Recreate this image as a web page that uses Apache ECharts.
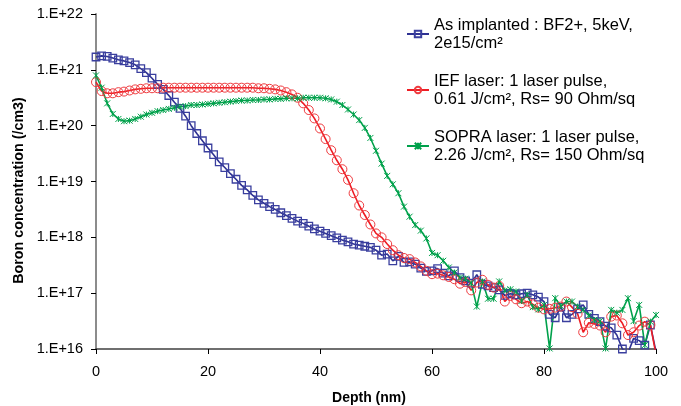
<!DOCTYPE html>
<html>
<head>
<meta charset="utf-8">
<script src="https://cdn.jsdelivr.net/npm/echarts@6/dist/echarts.min.js"></script>
<style>
html,body{margin:0;padding:0;background:#fff;}
#chart{width:681px;height:406px;}
</style>
</head>
<body>
<div id="chart"></div>
<script>
// Depth (nm)
const depth = [];
for (let i = 0; i <= 100; i++) depth.push(i);

// log10 of boron concentration (/cm3) at each depth
const asImplantedLog = [
21.23,21.25,21.24,21.21,21.18,21.16,21.13,21.09,21.02,20.95,
20.85,20.74,20.65,20.54,20.42,20.31,20.17,20.00,19.86,19.73,
19.60,19.48,19.35,19.25,19.14,19.04,18.93,18.85,18.75,18.67,
18.61,18.55,18.50,18.44,18.39,18.34,18.29,18.25,18.20,18.15,
18.11,18.07,18.03,17.99,17.95,17.92,17.88,17.86,17.84,17.82,
17.77,17.68,17.70,17.58,17.66,17.55,17.56,17.52,17.45,17.39,
17.40,17.44,17.36,17.31,17.40,17.28,17.22,17.18,17.33,17.16,
17.13,17.10,17.06,16.96,16.99,16.97,16.99,17.00,16.97,16.93,
16.85,16.62,16.56,16.75,16.56,16.62,16.72,16.79,16.62,16.55,
16.49,16.41,16.38,16.25,16.00,15.93,16.19,16.15,16.07,16.43,
15.95];

const iefLog = [
20.78,20.62,20.58,20.58,20.60,20.61,20.63,20.65,20.66,20.67,
20.67,20.67,20.68,20.68,20.68,20.68,20.68,20.68,20.68,20.68,
20.68,20.68,20.68,20.68,20.68,20.68,20.68,20.68,20.68,20.67,
20.67,20.66,20.65,20.63,20.60,20.56,20.50,20.40,20.28,20.13,
19.95,19.76,19.56,19.38,19.22,19.03,18.79,18.57,18.40,18.23,
18.07,18.00,17.88,17.77,17.68,17.63,17.61,17.55,17.48,17.40,
17.34,17.35,17.32,17.29,17.25,17.17,17.20,17.05,17.19,17.24,
17.15,17.10,17.13,16.85,16.95,16.89,16.82,16.85,16.80,16.74,
16.71,16.72,16.74,16.76,16.85,16.75,16.63,16.30,16.47,16.45,
16.42,16.30,16.58,16.60,16.46,16.25,16.30,16.42,16.49,16.43,
15.90];

const sopraLog = [
20.90,20.68,20.40,20.21,20.12,20.08,20.09,20.12,20.16,20.20,
20.23,20.26,20.28,20.30,20.32,20.34,20.35,20.37,20.37,20.38,
20.39,20.40,20.41,20.42,20.43,20.44,20.45,20.45,20.46,20.46,
20.47,20.47,20.48,20.48,20.49,20.49,20.49,20.50,20.50,20.50,
20.50,20.49,20.47,20.43,20.37,20.29,20.20,20.10,19.96,19.78,
19.55,19.32,19.10,18.95,18.79,18.55,18.37,18.22,18.12,17.98,
17.72,17.68,17.58,17.46,17.37,17.28,17.26,17.18,16.76,17.21,
16.90,16.90,17.21,17.05,17.07,17.03,16.86,16.97,16.75,16.71,
16.79,16.01,16.91,16.77,16.85,16.85,16.76,16.70,16.60,16.52,
16.50,16.01,16.70,16.65,16.70,16.91,16.50,16.79,16.07,16.49,
16.61];

const seriesNames = [
  'As implanted : BF2+, 5keV,\n2e15/cm²',
  'IEF laser: 1 laser pulse,\n0.61 J/cm², Rs= 90 Ohm/sq',
  'SOPRA laser: 1 laser pulse,\n2.26 J/cm², Rs= 150 Ohm/sq'
];
const xTicks = [0, 20, 40, 60, 80, 100];
const yTickExponents = [16, 17, 18, 19, 20, 21, 22];

const toPairs = (logs) => depth.map((d, i) => [d, Math.pow(10, logs[i])]);

const FONT = "'Liberation Sans', Arial, sans-serif";
const chart = echarts.init(document.getElementById('chart'), null, {renderer: 'canvas'});

const crossPath = 'path://M0,0L10,10M10,0L0,10M5,0L5,10';

chart.setOption({
  animation: false,
  backgroundColor: '#ffffff',
  grid: {left: 96, right: 25, top: 14, bottom: 57, containLabel: false, outerBoundsMode: 'none'},
  legend: {
    orient: 'vertical',
    left: 401,
    top: 2,
    itemWidth: 22,
    itemHeight: 8,
    itemGap: 2,
    textStyle: {fontFamily: FONT, fontSize: 16.5, color: '#000', lineHeight: 18, padding: [18, 0, 0, 0]},
    data: seriesNames
  },
  xAxis: {
    type: 'value',
    min: xTicks[0],
    max: xTicks[xTicks.length - 1],
    interval: 20,
    name: 'Depth (nm)',
    nameLocation: 'middle',
    nameGap: 42,
    nameTextStyle: {fontFamily: FONT, fontSize: 14, fontWeight: 'bold', color: '#000', padding: [0, 14, 0, 0]},
    axisLine: {lineStyle: {color: '#404040', width: 1.5}},
    axisTick: {show: true, inside: false, length: 5, lineStyle: {color: '#000'}},
    axisLabel: {fontFamily: FONT, fontSize: 14.5, color: '#000', margin: 15},
    splitLine: {show: false}
  },
  yAxis: {
    type: 'log',
    logBase: 10,
    min: Math.pow(10, yTickExponents[0]),
    max: Math.pow(10, yTickExponents[yTickExponents.length - 1]),
    name: 'Boron concentration (/cm3)',
    nameLocation: 'middle',
    nameGap: 67,
    nameTextStyle: {fontFamily: FONT, fontSize: 14.3, fontWeight: 'bold', color: '#000', padding: [0, 18, 0, 0]},
    axisLine: {show: true, lineStyle: {color: '#8c8c8c', width: 2}},
    axisTick: {show: true, inside: false, length: 5, lineStyle: {color: '#000'}},
    axisLabel: {
      fontFamily: FONT, fontSize: 14.5, color: '#000', margin: 13,
      formatter: (v) => '1.E+' + Math.round(Math.log10(v))
    },
    minorTick: {show: false},
    splitLine: {show: false}
  },
  series: [
    {
      name: seriesNames[0], type: 'line', data: toPairs(asImplantedLog),
      symbol: 'rect', symbolSize: 7.5, clip: true,
      lineStyle: {color: '#2e3192', width: 1.6},
      itemStyle: {color: 'rgba(255,255,255,0)', borderColor: '#3a3f9e', borderWidth: 1.3}
    },
    {
      name: seriesNames[1], type: 'line', data: toPairs(iefLog),
      symbol: 'circle', symbolSize: 9, clip: true,
      lineStyle: {color: '#ee1d24', width: 1.6},
      itemStyle: {color: 'rgba(255,255,255,0)', borderColor: '#ef3b3f', borderWidth: 1}
    },
    {
      name: seriesNames[2], type: 'line', data: toPairs(sopraLog),
      symbol: crossPath, symbolSize: 6, clip: true,
      lineStyle: {color: '#00a14b', width: 1.6},
      itemStyle: {color: 'rgba(255,255,255,0)', borderColor: '#00a14b', borderWidth: 1}
    }
  ]
});
</script>
</body>
</html>
